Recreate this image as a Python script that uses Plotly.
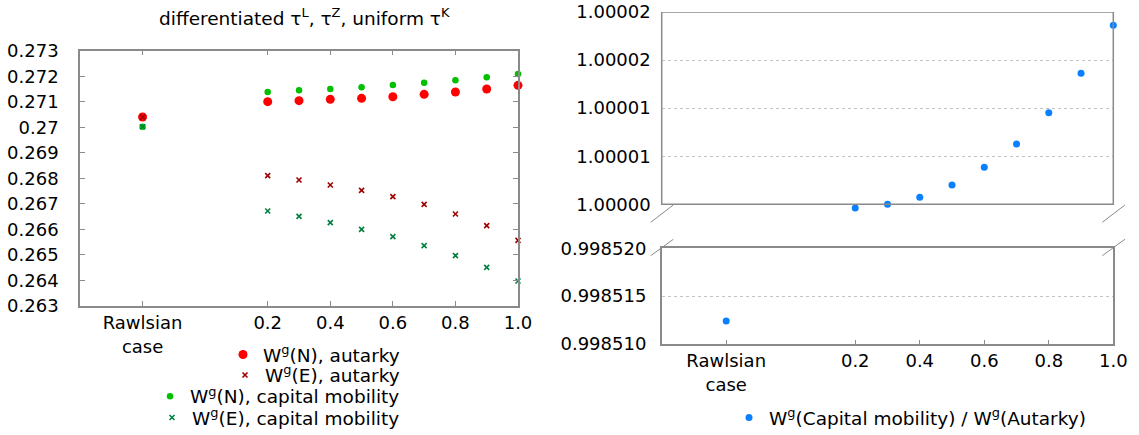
import plotly.graph_objects as go

# ---------------- data ----------------
alpha = [0.2, 0.3, 0.4, 0.5, 0.6, 0.7, 0.8, 0.9, 1.0]
RAWLS = -0.2  # placement of the "Rawlsian case" category on the x axis
x_all = [RAWLS] + alpha

x_tickvals = [RAWLS, 0.2, 0.4, 0.6, 0.8, 1.0]
x_ticktext = ["Rawlsian<br>case", "0.2", "0.4", "0.6", "0.8", "1.0"]

# first value = Rawlsian case, then alpha = 0.2 ... 1.0
wn_autarky = [0.270402, 0.271003, 0.271042, 0.271094, 0.271133, 0.271198, 0.271290, 0.271381, 0.271499, 0.271642]
we_autarky = [0.270400, 0.268104, 0.267935, 0.267739, 0.267530, 0.267282, 0.266982, 0.266603, 0.266146, 0.265572]
wn_capmob = [0.270024, 0.271381, 0.271447, 0.271499, 0.271564, 0.271655, 0.271747, 0.271838, 0.271956, 0.272086]
we_capmob = [0.270020, 0.266721, 0.266512, 0.266264, 0.266003, 0.265716, 0.265363, 0.264971, 0.264514, 0.263979]

ratio = [0.9985124, 0.99999962, 1.00000000, 1.00000073, 1.00000201, 1.00000385,
         1.00000627, 1.00000953, 1.00001362, 1.00001861]

left_yticks = [0.263, 0.264, 0.265, 0.266, 0.267, 0.268, 0.269, 0.270, 0.271, 0.272, 0.273]
left_yticktext = ["0.263", "0.264", "0.265", "0.266", "0.267", "0.268", "0.269", "0.27", "0.271", "0.272", "0.273"]
top_yticks = [1.0, 1.000005, 1.00001, 1.000015, 1.00002]
top_yticktext = ["1.00000", "1.00001", "1.00001", "1.00002", "1.00002"]
bot_yticks = [0.998510, 0.998515, 0.998520]
bot_yticktext = ["0.998510", "0.998515", "0.998520"]

# ---------------- layout helpers ----------------
W, H = 1139, 435
FONT = "DejaVu Sans"
FS = 18
FS_TXT = 18.5
AXC = "#8a8a8a"


def px(x):
    return x / W


def py(y):
    return 1 - y / H


fig = go.Figure()

fig.add_trace(go.Scatter(x=x_all, y=wn_autarky, mode="markers", name="W<sup>g</sup>(N), autarky",
                         marker=dict(symbol="circle", size=9, color="#ff0000"),
                         xaxis="x", yaxis="y", legend="legend", cliponaxis=False))
fig.add_trace(go.Scatter(x=x_all, y=we_autarky, mode="markers", name="W<sup>g</sup>(E), autarky",
                         marker=dict(symbol="x-thin", size=5, line=dict(width=1.6, color="#a00000"), color="#a00000"),
                         xaxis="x", yaxis="y", legend="legend2", cliponaxis=False))
fig.add_trace(go.Scatter(x=x_all, y=wn_capmob, mode="markers", name="W<sup>g</sup>(N), capital mobility",
                         marker=dict(symbol="circle", size=6.5, color="#00c000"),
                         xaxis="x", yaxis="y", legend="legend3", cliponaxis=False))
fig.add_trace(go.Scatter(x=x_all, y=we_capmob, mode="markers", name="W<sup>g</sup>(E), capital mobility",
                         marker=dict(symbol="x-thin", size=5, line=dict(width=1.6, color="#008040"), color="#008040"),
                         xaxis="x", yaxis="y", legend="legend4", cliponaxis=False))

fig.add_trace(go.Scatter(x=x_all[1:], y=ratio[1:], mode="markers",
                         name="W<sup>g</sup>(Capital mobility) / W<sup>g</sup>(Autarky)",
                         marker=dict(symbol="circle", size=7, color="#0a80ff"),
                         xaxis="x2", yaxis="y2", legend="legend5", cliponaxis=False))
fig.add_trace(go.Scatter(x=x_all[:1], y=ratio[:1], mode="markers", showlegend=False,
                         name="W<sup>g</sup>(Capital mobility) / W<sup>g</sup>(Autarky)",
                         marker=dict(symbol="circle", size=7, color="#0a80ff"),
                         xaxis="x3", yaxis="y3", cliponaxis=False))

common_ax = dict(linecolor=AXC, linewidth=1.5, zeroline=False,
                 tickfont=dict(family=FONT, size=FS, color="black"), tickcolor=AXC)

LX0, LX1 = 80, 518
RX0, RX1 = 661.7, 1113.3
TOP_Y0, TOP_Y1 = 204.3, 12        # pixel rows of 1.00000 and 1.00002
TOP_LO = 0.9999994                 # axis range starts a bit below 1.0 so the 0.2 point stays visible
top_bottom_px = TOP_Y0 + (1.0 - TOP_LO) / (top_yticks[-1] - top_yticks[0]) * (TOP_Y0 - TOP_Y1)

fig.update_layout(
    width=W, height=H,
    margin=dict(l=0, r=0, t=0, b=0, autoexpand=False),
    paper_bgcolor="white", plot_bgcolor="white",
    font=dict(family=FONT, size=FS_TXT, color="black"),
    xaxis=dict(domain=[px(LX0), px(LX1)], range=[-0.4, 1.0], anchor="y",
               tickmode="array", tickvals=x_tickvals, ticktext=x_ticktext,
               ticks="inside", ticklen=5, showline=True, mirror="allticks", showgrid=False, **common_ax),
    yaxis=dict(domain=[py(306), py(50.7)], range=[0.263, 0.273], anchor="x",
               tickmode="array", tickvals=left_yticks, ticktext=left_yticktext,
               ticks="inside", ticklen=5, showline=True, mirror="allticks", showgrid=False,
               ticklabelstandoff=16, **common_ax),
    xaxis2=dict(domain=[px(RX0), px(RX1)], range=[-0.4, 1.0], anchor="y2",
                showticklabels=False, ticks="", showline=False, showgrid=False, **common_ax),
    yaxis2=dict(domain=[py(top_bottom_px), py(TOP_Y1)], range=[TOP_LO, top_yticks[-1]], anchor="x2",
                tickmode="array", tickvals=top_yticks, ticktext=top_yticktext,
                ticks="", showline=False, showgrid=True, gridcolor="#c4c4c4", griddash="dot",
                gridwidth=1, ticklabelstandoff=10, **common_ax),
    xaxis3=dict(domain=[px(RX0), px(RX1)], range=[-0.4, 1.0], anchor="y3",
                tickmode="array", tickvals=x_tickvals, ticktext=x_ticktext,
                ticks="inside", ticklen=4, showline=True, mirror=True, showgrid=False, **common_ax),
    yaxis3=dict(domain=[py(344), py(248.3)], range=[0.998510, 0.998520], anchor="x3",
                tickmode="array", tickvals=bot_yticks, ticktext=bot_yticktext,
                ticks="", showline=True, mirror=True, showgrid=True, gridcolor="#c4c4c4", griddash="dot",
                gridwidth=1, ticklabelstandoff=10, **common_ax),
    showlegend=True,
)

# frame of the upper (broken) panel, from 1.00000 to 1.00002
fig.add_shape(type="rect", xref="x2 domain", yref="y2", x0=0, x1=1,
              y0=top_yticks[0], y1=top_yticks[-1], layer="above",
              line=dict(color=AXC, width=1.5), fillcolor="rgba(0,0,0,0)")

leg_common = dict(xanchor="right", yanchor="middle", bgcolor="rgba(0,0,0,0)",
                  borderwidth=0, font=dict(family=FONT, size=FS_TXT, color="black"),
                  tracegroupgap=0)
LEG_R = 405
fig.update_layout(
    legend=dict(x=px(LEG_R), y=py(355), **leg_common),
    legend2=dict(x=px(LEG_R), y=py(375.5), **leg_common),
    legend3=dict(x=px(LEG_R), y=py(396.7), **leg_common),
    legend4=dict(x=px(LEG_R), y=py(418), **leg_common),
    legend5=dict(x=px(1091), y=py(418), **leg_common),
)

# title of the left panel
fig.add_annotation(text="differentiated \u03c4<sup>L</sup>, \u03c4<sup>Z</sup>, uniform \u03c4<sup>K</sup>",
                   x=px(304), y=py(17), xref="paper", yref="paper",
                   xanchor="center", yanchor="middle", showarrow=False,
                   font=dict(family=FONT, size=FS_TXT, color="black"))

# broken-axis marks
for xc in (RX0, RX1):
    for (ya, yb) in ((222.3, 205.0), (255.7, 239.3)):
        fig.add_shape(type="line", xref="paper", yref="paper",
                      x0=px(xc - 11), y0=py(ya), x1=px(xc + 11.6), y1=py(yb),
                      line=dict(color=AXC, width=1))

# remove the default 8px page margin so the 1139x435 figure fills the window exactly
fig.write_html("out.html", config={"displayModeBar": False},
               post_script="document.body.style.margin='0';")
